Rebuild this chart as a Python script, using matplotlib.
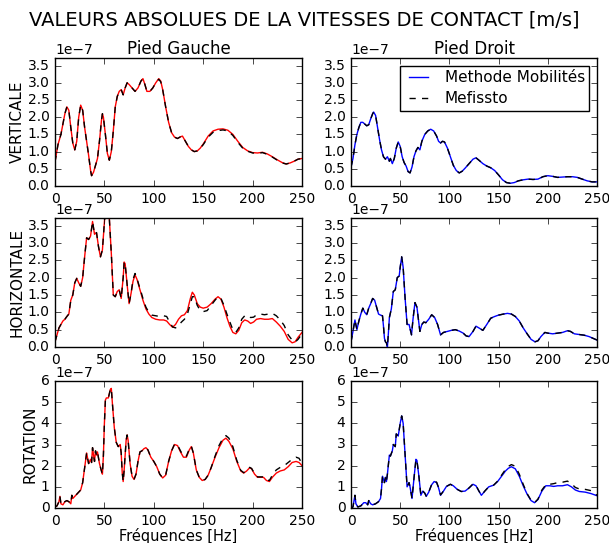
import matplotlib
matplotlib.use("Agg")
import matplotlib.pyplot as plt

plt.style.use("classic")
plt.rcParams.update({
    "figure.facecolor": "white",
    "savefig.facecolor": "white",
    "font.family": ["DejaVu Sans"],
    "xtick.labelsize": 10,
    "ytick.labelsize": 10,
})

SCALE = 1e-7  # values below are in units of 1e-7 m/s
XTICKS = [0, 50, 100, 150, 200, 250]
YTICKS_VH = [0, 0.5, 1.0, 1.5, 2.0, 2.5, 3.0, 3.5]
YTICKS_R = [0, 1, 2, 3, 4, 5, 6]
ROW_LABELS = ["VERTICALE", "HORIZONTALE", "ROTATION"]
COL_TITLES = ["Pied Gauche", "Pied Droit"]
LEGEND_LABELS = ["Methode Mobilités", "Mefissto"]

# ---- Pied Gauche, VERTICALE ----
TL_mob = [(0,0.7),(3,1.2),(6,1.5),(8,1.8),(10,2.1),(12,2.3),(14,2.2),(16,1.7),(18,1.25),(20,1.05),
          (22,1.3),(24,2.0),(26,2.35),(28,2.2),(30,1.7),(32,1.3),(34,0.9),(36,0.45),(37,0.3),(39,0.4),
          (41,0.6),(43,0.8),(45,1.3),(47,1.9),(48,2.1),(49,2.0),(51,1.5),(53,0.95),(55,0.75),(57,1.0),
          (59,1.6),(61,2.3),(63,2.6),(65,2.75),(67,2.8),(69,2.65),(71,2.85),(73,3.0),(75,2.95),(78,2.85),
          (81,2.75),(84,2.85),(87,3.05),(89,3.12),(91,2.95),(93,2.75),(96,2.75),(99,2.85),(102,3.0),(105,3.12),
          (107,3.05),(109,2.8),(112,2.3),(115,1.85),(118,1.55),(121,1.42),(124,1.38),(127,1.43),(129,1.45),(132,1.3),
          (135,1.15),(138,1.05),(141,1.0),(144,1.02),(147,1.1),(150,1.22),(155,1.45),(160,1.6),(165,1.65),(170,1.66),
          (175,1.62),(180,1.5),(185,1.3),(190,1.12),(195,1.02),(200,0.97),(205,0.96),(210,0.98),(215,0.93),(220,0.85),
          (225,0.76),(230,0.68),(234,0.64),(238,0.67),(242,0.72),(246,0.78),(250,0.8)]
TL_mef = [(0,0.7),(3,1.2),(6,1.5),(8,1.8),(10,2.1),(12,2.3),(14,2.2),(16,1.7),(18,1.25),(20,1.05),
          (22,1.3),(24,2.0),(26,2.35),(28,2.2),(30,1.7),(32,1.3),(34,0.9),(36,0.45),(37,0.3),(39,0.4),
          (41,0.6),(43,0.8),(45,1.3),(47,1.9),(48,2.1),(49,2.0),(51,1.5),(53,0.95),(55,0.75),(57,1.0),
          (59,1.6),(61,2.3),(63,2.6),(65,2.75),(67,2.8),(69,2.65),(71,2.85),(73,3.0),(75,2.95),(78,2.85),
          (81,2.75),(84,2.85),(87,3.05),(89,3.12),(91,2.95),(93,2.75),(96,2.75),(99,2.85),(102,3.0),(105,3.1),
          (107,3.03),(109,2.8),(112,2.3),(115,1.85),(118,1.55),(121,1.42),(124,1.38),(127,1.43),(129,1.45),(132,1.3),
          (135,1.15),(138,1.05),(141,1.0),(144,1.02),(147,1.1),(150,1.2),(155,1.42),(160,1.56),(165,1.61),(170,1.63),
          (175,1.6),(180,1.47),(185,1.27),(190,1.1),(195,1.01),(200,0.96),(205,0.95),(210,0.97),(215,0.92),(220,0.84),
          (225,0.75),(230,0.67),(234,0.64),(238,0.67),(242,0.72),(246,0.78),(250,0.8)]

# ---- Pied Gauche, HORIZONTALE ----
ML_mob = [(0,0.15),(2,0.35),(4,0.55),(6,0.65),(8,0.75),(10,0.8),(12,0.88),(14,0.95),(16,1.35),(18,1.5),
          (20,1.85),(22,1.98),(24,1.85),(26,1.75),(28,2.0),(30,2.6),(32,3.15),(34,3.1),(36,3.2),(38,3.62),
          (40,3.25),(42,3.3),(44,2.9),(46,2.6),(48,2.8),(50,3.6),(51,4.0),(53,4.0),(55,3.7),(57,2.7),
          (59,1.5),(61,1.45),(63,1.6),(65,1.65),(67,1.4),(69,2.0),(70,2.45),(71,2.4),(73,1.8),(75,1.25),
          (77,1.55),(79,1.9),(81,2.08),(83,1.95),(85,1.75),(87,1.55),(89,1.35),(92,1.1),(95,0.95),(98,0.85),
          (102,0.8),(106,0.78),(110,0.78),(113,0.75),(116,0.65),(119,0.57),(122,0.65),(125,0.8),(128,0.9),(131,0.93),
          (134,1.05),(137,1.4),(139,1.58),(141,1.5),(144,1.25),(147,1.15),(150,1.12),(154,1.15),(158,1.25),(162,1.38),
          (165,1.45),(168,1.38),(171,1.15),(174,0.85),(177,0.6),(180,0.42),(183,0.38),(186,0.48),(189,0.7),(192,0.78),
          (195,0.75),(198,0.68),(201,0.72),(204,0.8),(208,0.82),(212,0.8),(216,0.8),(220,0.82),(224,0.72),(228,0.6),
          (232,0.45),(236,0.22),(240,0.12),(243,0.15),(246,0.28),(250,0.42)]
ML_mef = [(0,0.15),(2,0.35),(4,0.55),(6,0.65),(8,0.75),(10,0.8),(12,0.88),(14,0.95),(16,1.35),(18,1.5),
          (20,1.85),(22,1.98),(24,1.85),(26,1.75),(28,2.0),(30,2.6),(32,3.15),(34,3.1),(36,3.2),(38,3.62),
          (40,3.25),(42,3.3),(44,2.9),(46,2.6),(48,2.8),(50,3.6),(51,4.0),(53,4.0),(55,3.7),(57,2.7),
          (59,1.5),(61,1.45),(63,1.6),(65,1.65),(67,1.4),(69,2.0),(70,2.45),(71,2.4),(73,1.8),(75,1.25),
          (77,1.55),(79,1.95),(81,2.12),(83,1.98),(85,1.78),(87,1.6),(89,1.4),(92,1.15),(95,1.0),(98,0.92),
          (102,0.9),(106,0.88),(110,0.9),(113,0.88),(116,0.72),(119,0.58),(122,0.55),(125,0.62),(128,0.72),(131,0.8),
          (134,0.95),(137,1.25),(139,1.45),(141,1.45),(144,1.2),(147,1.05),(150,1.02),(154,1.05),(158,1.2),(162,1.35),
          (165,1.45),(168,1.4),(171,1.2),(174,0.95),(177,0.72),(180,0.5),(183,0.42),(186,0.55),(189,0.8),(192,0.9),
          (195,0.92),(198,0.85),(201,0.86),(204,0.93),(208,0.95),(212,0.93),(216,0.95),(220,0.97),(224,0.9),(228,0.78),
          (232,0.62),(236,0.35),(240,0.2),(243,0.14),(246,0.22),(250,0.38)]

# ---- Pied Gauche, ROTATION ----
BL_mob = [(0,0.05),(2,0.1),(4,0.3),(5,0.55),(6,0.2),(8,0.15),(10,0.3),(12,0.35),(14,0.3),(16,0.2),
          (17,0.6),(18,0.45),(20,0.55),(22,0.65),(24,0.75),(26,0.85),(28,1.2),(30,1.9),(32,2.6),(34,2.1),
          (36,2.3),(37,2.15),(38,2.85),(39,2.5),(40,2.2),(41,2.7),(42,2.5),(43,2.65),(45,2.1),(47,1.75),
          (48,1.6),(49,2.5),(50,4.0),(51,5.1),(52,5.2),(54,5.2),(56,5.6),(57,5.65),(58,5.0),(60,3.8),
          (62,3.1),(64,2.9),(66,3.0),(67,2.6),(68,1.7),(69,1.25),(70,1.8),(72,3.2),(73,3.45),(74,3.2),
          (76,2.1),(78,1.5),(80,1.35),(82,1.6),(84,2.2),(86,2.65),(88,2.7),(90,2.8),(92,2.85),(94,2.75),
          (97,2.4),(100,2.2),(103,1.95),(106,1.6),(109,1.42),(112,1.55),(115,2.2),(118,2.7),(121,3.0),(124,2.95),
          (127,2.65),(130,2.4),(133,2.4),(136,2.75),(138,2.9),(140,2.6),(143,1.8),(146,1.45),(149,1.3),(152,1.35),
          (155,1.55),(158,1.9),(162,2.4),(166,2.85),(170,3.2),(173,3.3),(176,3.15),(180,2.8),(184,2.2),(188,1.75),
          (191,1.65),(194,1.75),(197,1.9),(199,1.85),(202,1.6),(205,1.45),(208,1.45),(211,1.45),(214,1.3),(217,1.25),
          (220,1.45),(224,1.65),(228,1.75),(232,1.8),(236,1.95),(240,2.15),(244,2.2),(247,2.15),(250,2.0)]
BL_mef = [(0,0.05),(2,0.1),(4,0.3),(5,0.55),(6,0.2),(8,0.15),(10,0.3),(12,0.35),(14,0.3),(16,0.2),
          (17,0.6),(18,0.45),(20,0.55),(22,0.65),(24,0.75),(26,0.85),(28,1.2),(30,1.9),(32,2.6),(34,2.1),
          (36,2.3),(37,2.15),(38,2.85),(39,2.5),(40,2.2),(41,2.7),(42,2.5),(43,2.65),(45,2.1),(47,1.75),
          (48,1.6),(49,2.5),(50,4.0),(51,5.1),(52,5.2),(54,5.2),(56,5.6),(57,5.65),(58,5.0),(60,3.8),
          (62,3.1),(64,2.9),(66,3.0),(67,2.6),(68,1.7),(69,1.25),(70,1.8),(72,3.2),(73,3.45),(74,3.2),
          (76,2.1),(78,1.5),(80,1.35),(82,1.6),(84,2.2),(86,2.65),(88,2.7),(90,2.8),(92,2.85),(94,2.75),
          (97,2.4),(100,2.2),(103,1.95),(106,1.6),(109,1.42),(112,1.55),(115,2.2),(118,2.7),(121,3.02),(124,2.98),
          (127,2.7),(130,2.45),(133,2.45),(136,2.8),(138,2.92),(140,2.6),(143,1.8),(146,1.45),(149,1.3),(152,1.35),
          (155,1.55),(158,1.9),(162,2.45),(166,2.95),(170,3.3),(173,3.42),(176,3.3),(180,2.9),(184,2.25),(188,1.78),
          (191,1.67),(194,1.77),(197,1.92),(199,1.87),(202,1.62),(205,1.47),(208,1.47),(211,1.47),(214,1.33),(217,1.3),
          (220,1.55),(224,1.8),(228,1.92),(232,2.0),(236,2.15),(240,2.3),(244,2.4),(247,2.35),(250,2.1)]

# ---- Pied Droit, VERTICALE ----
TR_mob = [(0,0.55),(2,0.8),(4,1.2),(6,1.5),(8,1.7),(10,1.85),(12,1.85),(14,1.8),(16,1.75),(18,1.78),
          (20,1.95),(22,2.1),(23,2.15),(25,2.05),(27,1.7),(29,1.35),(31,1.05),(33,0.85),(35,0.78),(37,0.85),
          (39,0.72),(40,0.8),(42,0.65),(44,0.8),(46,1.1),(48,1.28),(50,1.15),(52,0.85),(54,0.68),(56,0.58),
          (58,0.42),(60,0.38),(62,0.55),(64,0.85),(66,1.02),(68,1.12),(70,1.05),(72,1.3),(75,1.5),(78,1.6),
          (81,1.65),(84,1.6),(87,1.45),(89,1.3),(91,1.25),(93,1.3),(95,1.28),(98,1.1),(101,0.85),(104,0.6),
          (107,0.45),(110,0.38),(113,0.43),(116,0.52),(120,0.65),(124,0.78),(127,0.82),(130,0.75),(134,0.65),(138,0.58),
          (142,0.53),(146,0.45),(150,0.32),(154,0.18),(158,0.1),(162,0.08),(166,0.1),(170,0.15),(175,0.18),(180,0.2),
          (185,0.19),(190,0.2),(195,0.27),(200,0.3),(205,0.28),(210,0.25),(215,0.26),(220,0.27),(225,0.27),(230,0.25),
          (235,0.2),(240,0.15),(245,0.12),(250,0.12)]
TR_mef = list(TR_mob)  # curves coincide within reading precision

# ---- Pied Droit, HORIZONTALE ----
MR_mob = [(0,0.15),(2,0.45),(4,0.78),(6,0.5),(8,0.75),(10,0.95),(12,1.12),(14,1.0),(16,0.93),(18,1.12),
          (20,1.25),(22,1.4),(24,1.35),(26,1.15),(28,0.95),(30,0.92),(32,0.9),(33,0.6),(34,0.25),(35,0.15),
          (36,0.12),(37,0.0),(38,0.4),(39,0.85),(41,1.1),(43,1.6),(45,1.65),(47,2.0),(49,2.05),(50,2.3),
          (51.5,2.6),(53,2.3),(55,1.4),(57,0.65),(59,0.65),(61.5,0.35),(63,0.8),(65,1.28),(67,1.15),(68.5,0.8),
          (70,0.45),(72,0.65),(74,0.72),(76,0.7),(79,0.8),(82,0.93),(85,0.85),(88,0.65),(91,0.35),(94,0.42),
          (98,0.45),(102,0.48),(106,0.5),(110,0.46),(114,0.4),(117,0.32),(120,0.3),(124,0.45),(127,0.6),(130,0.55),
          (134,0.48),(138,0.65),(142,0.83),(146,0.88),(150,0.92),(155,0.95),(159,0.97),(163,0.95),(167,0.88),(171,0.75),
          (175,0.55),(179,0.38),(183,0.22),(187,0.15),(190,0.18),(193,0.3),(197,0.42),(200,0.4),(205,0.38),(210,0.4),
          (215,0.42),(220,0.47),(223,0.45),(227,0.38),(232,0.36),(237,0.34),(242,0.3),(246,0.25),(250,0.2)]
MR_mef = list(MR_mob)  # curves coincide within reading precision

# ---- Pied Droit, ROTATION ----
BR_mob = [(0,0.0),(2,0.05),(4,0.6),(5,0.2),(7,0.05),(10,0.1),(13,0.25),(15,0.25),(17,0.15),(18,0.35),
          (20,0.2),(22,0.15),(25,0.2),(28,0.3),(30,0.45),(31,0.9),(32,1.5),(34,1.2),(35,1.45),(36,1.25),
          (37,1.6),(39,2.5),(40,2.45),(42,2.7),(43,3.0),(45,2.9),(46,3.5),(48,3.4),(50,4.0),(51.5,4.35),
          (53,4.0),(55,2.5),(57,1.0),(59,1.2),(60,1.0),(62,0.45),(64,1.4),(66,2.3),(67,2.25),(69,1.5),
          (71,0.6),(73,0.8),(75,0.7),(76.5,0.55),(79,0.75),(82,1.1),(84.5,1.25),(87,1.2),(89,0.95),(91,0.6),
          (94,0.8),(97,1.02),(101,1.12),(104,1.05),(108,0.88),(112,0.78),(116,0.8),(120,0.95),(124,1.12),(127,1.05),
          (130,0.8),(132.5,0.6),(136,0.8),(140,1.0),(145,1.08),(149,1.25),(153,1.5),(157,1.75),(160,1.88),(163,1.95),
          (167,1.85),(171,1.5),(175,1.05),(179,0.65),(183,0.35),(186.5,0.25),(190,0.4),(194,0.8),(198,1.05),(202,1.05),
          (206,1.02),(210,1.05),(215,1.05),(220,1.1),(224,1.0),(228,0.85),(232,0.78),(238,0.75),(244,0.68),(250,0.58)]
BR_mef = [(0,0.0),(2,0.05),(4,0.6),(5,0.2),(7,0.05),(10,0.1),(13,0.25),(15,0.25),(17,0.15),(18,0.35),
          (20,0.2),(22,0.15),(25,0.2),(28,0.3),(30,0.45),(31,0.9),(32,1.5),(34,1.2),(35,1.45),(36,1.25),
          (37,1.6),(39,2.5),(40,2.45),(42,2.7),(43,3.0),(45,2.9),(46,3.5),(48,3.4),(50,4.0),(51.5,4.35),
          (53,4.0),(55,2.5),(57,1.0),(59,1.2),(60,1.0),(62,0.45),(64,1.4),(66,2.3),(67,2.25),(69,1.5),
          (71,0.6),(73,0.8),(75,0.7),(76.5,0.55),(79,0.75),(82,1.12),(84.5,1.27),(87,1.22),(89,0.97),(91,0.62),
          (94,0.8),(97,1.02),(101,1.12),(104,1.05),(108,0.88),(112,0.78),(116,0.8),(120,0.95),(124,1.14),(127,1.07),
          (130,0.8),(132.5,0.6),(136,0.8),(140,1.0),(145,1.08),(149,1.27),(153,1.55),(157,1.82),(160,1.97),(163,2.05),
          (167,1.97),(171,1.6),(175,1.12),(179,0.68),(183,0.36),(186.5,0.25),(190,0.42),(194,0.85),(198,1.1),(202,1.12),
          (206,1.15),(210,1.2),(215,1.22),(220,1.27),(224,1.15),(228,0.97),(232,0.9),(238,0.88),(244,0.82),(250,0.6)]

PANELS = [
    [(TL_mob, TL_mef), (TR_mob, TR_mef)],
    [(ML_mob, ML_mef), (MR_mob, MR_mef)],
    [(BL_mob, BL_mef), (BR_mob, BR_mef)],
]
SOLID_COLORS = ["r", "b"]

W, H = 609, 543
fig = plt.figure(figsize=(W / 100, H / 100), dpi=100)

col_px = [(55, 247), (351, 246)]
row_px = [(58, 186), (218, 347), (381, 508)]

for r in range(3):
    for c in range(2):
        x0, w = col_px[c]
        top, bot = row_px[r]
        ax = fig.add_axes([x0 / W, 1 - bot / H, w / W, (bot - top) / H])
        mob, mef = PANELS[r][c]
        fx = [p[0] for p in mob]
        fy = [p[1] * SCALE for p in mob]
        gx = [p[0] for p in mef]
        gy = [p[1] * SCALE for p in mef]
        ax.plot(fx, fy, color=SOLID_COLORS[c], lw=1.0, label=LEGEND_LABELS[0])
        ax.plot(gx, gy, color="k", ls=(0, (4.5, 4.5)), lw=1.0, label=LEGEND_LABELS[1])
        ax.set_xlim(0, 250)
        ax.set_xticks(XTICKS)
        if r < 2:
            ax.set_ylim(0, 3.72 * SCALE)
            ax.set_yticks([t * SCALE for t in YTICKS_VH])
        else:
            ax.set_ylim(0, 6 * SCALE)
            ax.set_yticks([t * SCALE for t in YTICKS_R])
        ax.yaxis.get_offset_text().set_fontsize(10)
        if c == 0:
            ax.set_ylabel(ROW_LABELS[r], fontsize=11, labelpad=2)
        if r == 0:
            ax.set_title(COL_TITLES[c], fontsize=12, pad=3)
        if r == 2:
            ax.set_xlabel("Fréquences [Hz]", fontsize=10.5, labelpad=0)
        if r == 0 and c == 1:
            ax.legend(loc="upper right", fontsize=11, fancybox=False, numpoints=2,
                      handlelength=1.8, borderpad=0.3, labelspacing=0.4)

fig.suptitle("VALEURS ABSOLUES DE LA VITESSES DE CONTACT [m/s]", fontsize=14, y=1 - 20 / H, va="center")
fig.savefig("out.png", dpi=100)
